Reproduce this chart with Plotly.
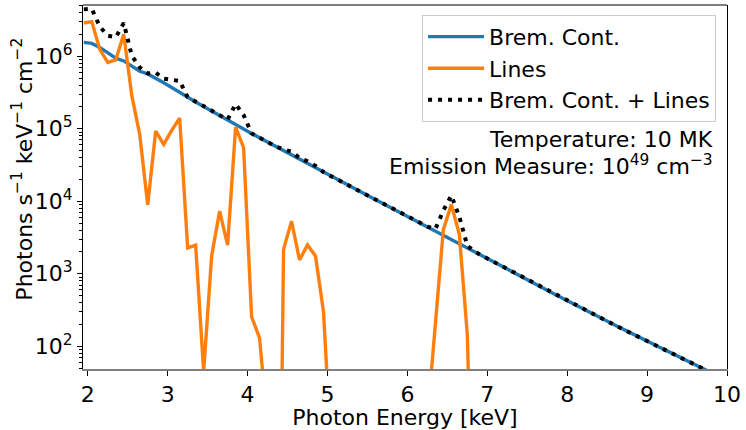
import numpy as np
import plotly.graph_objects as go

# Photon energy bin centres [keV]
energy = [1.95, 2.05, 2.15, 2.25, 2.35, 2.45, 2.55, 2.65, 2.75, 2.85,
          2.95, 3.05, 3.15, 3.25, 3.35, 3.45, 3.55, 3.65, 3.75, 3.85,
          3.95, 4.05, 4.15, 4.25, 4.35, 4.45, 4.55, 4.65, 4.75, 4.85,
          4.95, 5.05, 5.15, 5.25, 5.35, 5.45, 5.55, 5.65, 5.75, 5.85,
          5.95, 6.05, 6.15, 6.25, 6.35, 6.45, 6.55, 6.65, 6.75, 6.85,
          6.95, 7.05, 7.15, 7.25, 7.35, 7.45, 7.55, 7.65, 7.75, 7.85,
          7.95, 8.05, 8.15, 8.25, 8.35, 8.45, 8.55, 8.65, 8.75, 8.85,
          8.95, 9.05, 9.15, 9.25, 9.35, 9.45, 9.55, 9.65, 9.75, 9.85,
          9.95]

# Bremsstrahlung continuum [photons s^-1 keV^-1 cm^-2]
brem_cont = [1.55e6, 1.50e6, 1.32e6, 1.10e6, 9.4e5, 8.6e5, 7.3e5, 6.2e5, 5.7e5, 5.0e5,
             4.3e5, 3.7e5, 3.15e5, 2.7e5, 2.34e5, 2.03e5, 1.75e5, 1.51e5, 1.31e5, 1.14e5,
             9.9e4, 8.6e4, 7.5e4, 6.6e4, 5.7e4, 4.98e4, 4.3e4, 3.8e4, 3.3e4, 2.9e4,
             2.5e4, 2.2e4, 1.94e4, 1.69e4, 1.48e4, 1.29e4, 1.13e4, 9.9e3, 8.6e3, 7.6e3,
             6.6e3, 5.8e3, 5.1e3, 4.47e3, 3.9e3, 3.4e3, 3.0e3, 2.62e3, 2.28e3, 2.01e3,
             1.74e3, 1.52e3, 1.33e3, 1.16e3, 1.02e3, 888, 776, 679, 594, 519,
             454, 397, 347, 304, 268, 236, 208, 183, 162, 142,
             126, 111, 98, 86.5, 76.4, 67.4, 59.5, 52.5, 46.4, 40.9,
             36.1]

# Line emission [photons s^-1 keV^-1 cm^-2]
lines = [2.87e6, 3.0e6, 1.24e6, 8.2e5, 8.9e5, 2.0e6, 2.9e5, 8.3e4, 8.9e3, 9.3e4,
         6.1e4, 9.5e4, 1.4e5, 2.28e3, 2.48e3, 45, 1.76e3, 7.3e3, 2.48e3, 1.05e5,
         5.5e4, 256, 130, 8, 0, 2.17e3, 5.3e3, 1.55e3, 2.5e3, 1.76e3,
         300, 3, 0, 0, 0, 0, 0, 0, 0, 0,
         0, 0, 0, 10, 230, 4.06e3, 9.0e3, 3.5e3, 145, 0,
         0, 0, 0, 0, 0, 0, 0, 0, 0, 0,
         0, 0, 0, 0, 0, 0, 0, 0, 0, 0,
         0, 0, 0, 0, 0, 0, 0, 0, 0, 0,
         0]

x_ticks = [2, 3, 4, 5, 6, 7, 8, 9, 10]
y_tick_exps = [2, 3, 4, 5, 6]

brem = np.array(brem_cont, dtype=float)
lin = np.array(lines, dtype=float)
total = brem + lin
# mimic log-scale clipping of non-positive values
lin_plot = np.where(lin > 0, lin, 1e-6)

fig = go.Figure()
fig.add_trace(go.Scatter(x=energy, y=brem, mode="lines", name="Brem. Cont.",
                         line=dict(color="#1f77b4", width=3.4)))
fig.add_trace(go.Scatter(x=energy, y=lin_plot, mode="lines", name="Lines",
                         line=dict(color="#ff7f0e", width=3.4)))
fig.add_trace(go.Scatter(x=energy, y=total, mode="lines", name="Brem. Cont. + Lines",
                         line=dict(color="black", width=4, dash="4px,6px")))

minor_vals = [m * 10 ** e for e in range(1, 7) for m in range(2, 10)]

font_family = "DejaVu Sans"
fig.update_layout(
    width=746, height=430,
    margin=dict(l=83, r=16, t=5, b=55),
    paper_bgcolor="white", plot_bgcolor="white",
    font=dict(family=font_family, size=22, color="black"),
    showlegend=True,
    legend=dict(x=0.983, y=0.973, xanchor="right", yanchor="top",
                bgcolor="white", bordercolor="#cccccc", borderwidth=1,
                font=dict(size=22), itemwidth=56),
    xaxis=dict(range=[1.94, 10], tickvals=x_ticks, ticktext=[str(v) for v in x_ticks],
               showgrid=False, zeroline=False, showline=True, linecolor="#808080",
               linewidth=2, ticks="outside", ticklen=5, tickwidth=1, tickcolor="black",
               tickfont=dict(size=22),
               title=dict(text="Photon Energy [keV]", font=dict(size=22), standoff=2)),
    yaxis=dict(type="log", range=[1.6875, 6.7056],
               tickvals=[10 ** e for e in y_tick_exps],
               ticktext=["10<sup>%d</sup>" % e for e in y_tick_exps],
               showgrid=False, zeroline=False, showline=True, linecolor="black",
               linewidth=1, mirror=True, ticks="outside", ticklen=5, tickwidth=1,
               tickcolor="black", tickfont=dict(size=22),
               minor=dict(tickvals=minor_vals, ticks="outside", ticklen=3,
                          tickwidth=1, tickcolor="black", showgrid=False)),
    shapes=[dict(type="line", xref="paper", yref="paper", x0=0, x1=1, y0=1, y1=1,
                 line=dict(color="black", width=1))],
    annotations=[
        dict(text="Photons s<sup>−1</sup> keV<sup>−1</sup> cm<sup>−2</sup>",
             xref="paper", yref="paper", x=-0.094, y=0.549, textangle=-90,
             xanchor="center", yanchor="middle", showarrow=False, font=dict(size=22)),
        dict(text="Temperature: 10 MK", xref="paper", yref="paper", x=0.982, y=0.630,
             xanchor="right", yanchor="middle", showarrow=False, font=dict(size=22)),
        dict(text="Emission Measure: 10<sup>49</sup> cm<sup>−3</sup>", xref="paper",
             yref="paper", x=0.982, y=0.560, xanchor="right", yanchor="middle",
             showarrow=False, font=dict(size=22)),
    ],
)

fig.write_html("out.html")
